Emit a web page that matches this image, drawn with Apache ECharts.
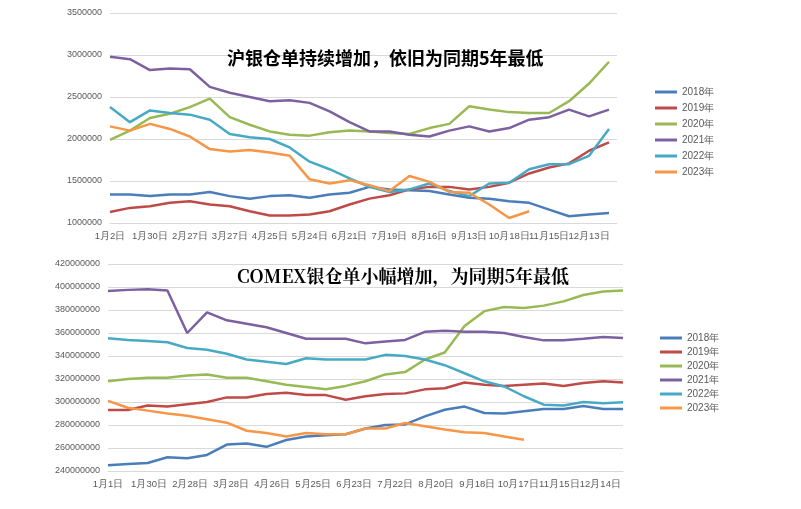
<!DOCTYPE html><html><head><meta charset="utf-8"><script src="https://cdn.jsdelivr.net/npm/echarts@6/dist/echarts.min.js"></script>
<style>html,body{margin:0;background:#fff}#c{width:801px;height:509px}</style></head><body><div id="c"></div><script>
const years=['2018年','2019年','2020年','2021年','2022年','2023年'];
const colors=['#4a7ebb','#be4b48','#98b954','#7d60a0','#46aac5','#f79646'];
// top panel: SHFE silver warrants, sampled every 10 trading days (values in million units)
const topTicks=['1月2日','1月30日','2月27日','3月27日','4月25日','5月24日','6月21日','7月19日','8月16日','9月13日','10月18日','11月15日','12月13日'];
const top2018=[1.34,1.34,1.32,1.34,1.34,1.37,1.32,1.29,1.32,1.33,1.30,1.34,1.36,1.43,1.40,1.39,1.38,1.34,1.30,1.29,1.26,1.24,1.16,1.08,1.10,1.12];
const top2019=[1.13,1.18,1.20,1.24,1.26,1.22,1.20,1.14,1.09,1.09,1.10,1.14,1.22,1.29,1.33,1.40,1.43,1.43,1.40,1.43,1.48,1.59,1.66,1.71,1.86,1.96];
const top2020=[1.99,2.10,2.25,2.30,2.38,2.48,2.26,2.17,2.09,2.05,2.04,2.08,2.10,2.09,2.07,2.06,2.13,2.18,2.39,2.35,2.32,2.31,2.31,2.45,2.66,2.92];
const top2021=[2.98,2.95,2.82,2.84,2.83,2.62,2.55,2.50,2.45,2.46,2.43,2.33,2.20,2.09,2.09,2.05,2.03,2.10,2.15,2.09,2.13,2.23,2.26,2.35,2.27,2.35];
const top2022=[2.38,2.20,2.34,2.31,2.29,2.23,2.06,2.02,2.00,1.90,1.73,1.64,1.53,1.43,1.37,1.40,1.47,1.38,1.32,1.47,1.48,1.64,1.70,1.70,1.80,2.12];
const top2023=[2.15,2.10,2.18,2.12,2.03,1.88,1.85,1.87,1.84,1.80,1.52,1.47,1.51,1.45,1.38,1.56,1.49,1.37,1.36,1.22,1.06,1.14];
// bottom panel: COMEX silver, sampled every 14 days (values in millions)
const botTicks=['1月1日','1月30日','2月28日','3月28日','4月26日','5月25日','6月23日','7月22日','8月20日','9月18日','10月17日','11月15日','12月14日'];
const bot2018=[245,246,247,252,251,254,263,264,261,267,270,271,272,277,280,280.5,287.5,293.3,296,290.4,290,292,294,294,296.5,294,294];
const bot2019=[293,293,297,296,298,300,304,304,307,308,306,306,302,305,307,307.5,311,311.9,317,315,314,315,316,314,316.5,318,317];
const bot2020=[318,320,321,321,323,324,321,321,318,315,313,311,314,318,324,326,337,343,366,379,382.6,381.7,383.8,387.5,393,396,397];
const bot2021=[396.5,397.5,398,397,360,378,371,368,365,360,355,355,355,351,352.7,354,361,362,361,361,360,356.5,353.6,353.6,355,356.5,355.6];
const bot2022=[355.5,354,353,352,347,345.5,342,337,335,333,338,337,337,337,341,340,337,332,325,318,313.5,305,297.7,297,300,299,299.7];
const bot2023=[301,295,292.5,290,288,285,282,275,273,270,273,272,272,277,277,281.7,279,276,273.6,273,270,267.2];
const topSeries=[top2018,top2019,top2020,top2021,top2022,top2023];
const botSeries=[bot2018,bot2019,bot2020,bot2021,bot2022,bot2023];
const lab={color:'#595959',fontSize:9,fontFamily:'Liberation Sans'};
const series=[];
topSeries.forEach((a,k)=>series.push({name:years[k],type:'line',xAxisIndex:0,yAxisIndex:0,symbol:'none',lineStyle:{width:2.5,color:colors[k]},itemStyle:{color:colors[k]},data:a.map((v,i)=>[i*10,v*1e6])}));
botSeries.forEach((a,k)=>series.push({name:years[k]+' ',type:'line',xAxisIndex:1,yAxisIndex:1,symbol:'none',lineStyle:{width:2.5,color:colors[k]},itemStyle:{color:colors[k]},data:a.map((v,i)=>[i*14,v*1e6])}));
const mkX=(grid,max,step,ticks)=>({type:'value',gridIndex:grid,min:0,max:max,interval:step,splitLine:{show:false},axisTick:{show:false},axisLine:{lineStyle:{color:'#d9d9d9'}},axisLabel:Object.assign({},lab,{fontSize:9.5,showMaxLabel:false,formatter:v=>ticks[Math.round(v/step)]||''})});
const mkY=(grid,min,max,step)=>({type:'value',gridIndex:grid,min:min,max:max,interval:step,axisLine:{show:false},axisTick:{show:false},splitLine:{lineStyle:{color:'#d9d9d9'}},axisLabel:Object.assign({},lab,{formatter:v=>String(v)})});
const chart=echarts.init(document.getElementById('c'));
chart.setOption({animation:false,
title:[{text:'沪银仓单持续增加，依旧为同期5年最低',left:222,top:44,textStyle:{fontSize:18,fontWeight:'bold',color:'#000',fontFamily:'Noto Sans CJK SC'}},
{text:'COMEX银仓单小幅增加，为同期5年最低',left:232,top:262,textStyle:{fontSize:18,fontWeight:'bold',color:'#000',fontFamily:'Noto Serif CJK SC, Noto Sans CJK SC'}}],
legend:[{data:years,orient:'vertical',left:650,top:82,itemGap:6,itemWidth:22,itemHeight:3,icon:'rect',textStyle:{color:'#595959',fontSize:10}},
{data:years.map(y=>y+' '),orient:'vertical',left:655,top:328,itemGap:4,itemWidth:22,itemHeight:3,icon:'rect',textStyle:{color:'#595959',fontSize:10}}],
grid:[{left:110,right:184,top:13,bottom:286},{left:108,right:178,top:264,bottom:38}],
xAxis:[mkX(0,254,20,topTicks),mkX(1,364,29,botTicks)],
yAxis:[mkY(0,1000000,3500000,500000),mkY(1,240000000,420000000,20000000)],
series:series});
</script></body></html>
